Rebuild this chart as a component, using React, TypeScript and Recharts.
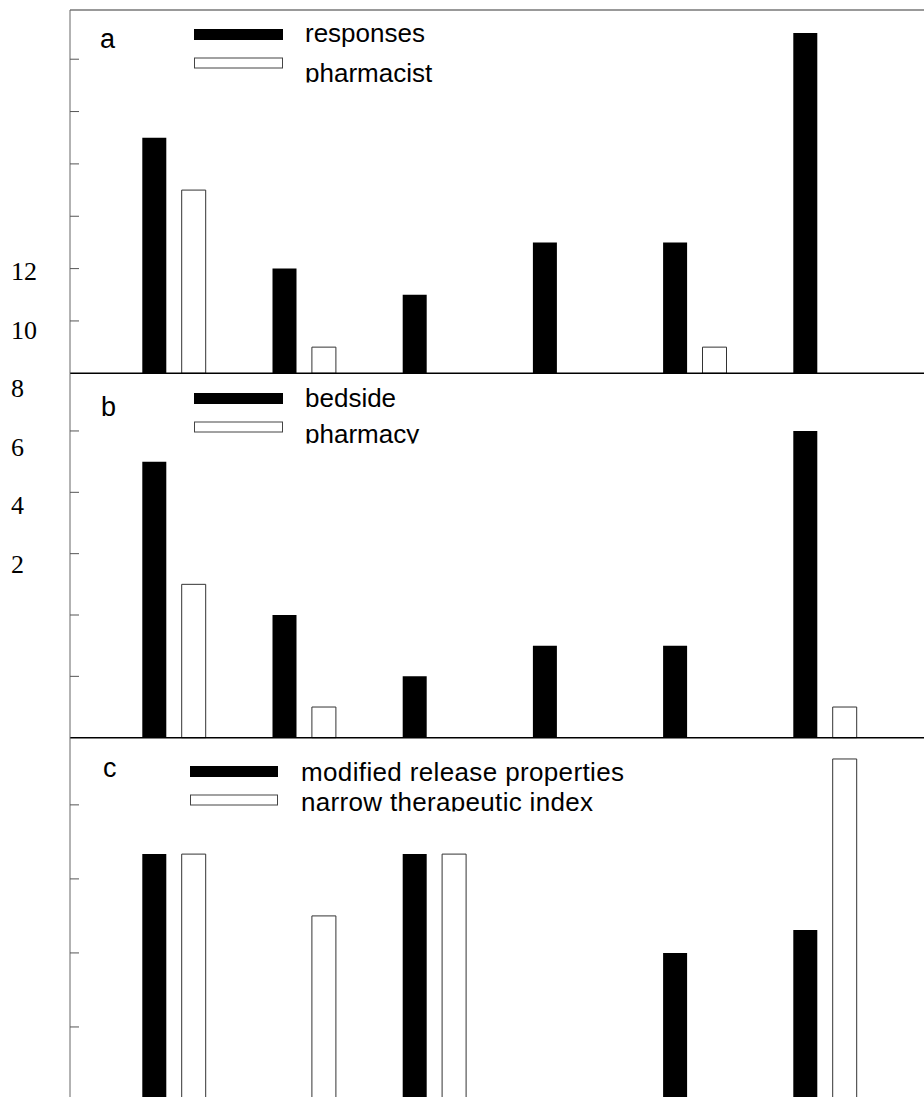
import React from 'react'
import { BarChart, Bar, XAxis, YAxis } from 'recharts'

const categories = ['1', '2', '3', '4', '5', '6']

// panel a
const responses = [9, 4, 3, 5, 5, 13]
const pharmacist = [7, 1, 0, 0, 1, 0]

// panel b
const bedside = [9, 4, 2, 3, 3, 10]
const pharmacy = [5, 1, 0, 0, 0, 1]

// panel c
const modifiedRelease = [6.67, 0, 6.67, 0, 4, 4.62]
const narrowIndex = [6.67, 5, 6.67, 0, 0, 9.24]

const ticksA = [2, 4, 6, 8, 10, 12]
const ticksB = [2, 4, 6, 8, 10]
const ticksC = [2, 4, 6, 8]

// stray axis labels on the far left
const strayLabels = ['12', '10', '8', '6', '4', '2']

const SANS = '"Liberation Sans", Arial, Helvetica, sans-serif'
const SERIF = '"Liberation Serif", "Times New Roman", serif'

const build = (black: number[], white: number[]) =>
  categories.map((c, i) => ({ cat: c, black: black[i], white: white[i] }))

interface PanelProps {
  top: number
  height: number
  marginTop: number
  marginBottom: number
  domainMax: number
  ticks: number[]
  data: { cat: string; black: number; white: number }[]
  topLine?: boolean
}

function Panel({ top, height, marginTop, marginBottom, domainMax, ticks, data, topLine }: PanelProps) {
  return (
    <div style={{ position: 'absolute', left: 0, top, width: 924, height }}>
      <BarChart
        width={924}
        height={height}
        data={data}
        margin={{ top: topLine ? marginTop - 1 : marginTop, right: 0, bottom: marginBottom - 1, left: 69 }}
        barGap={15.4}
      >
        <XAxis
          dataKey="cat"
          height={1}
          tick={false}
          tickLine={false}
          padding={{ left: 39.3, right: 33.5 }}
          axisLine={{ stroke: '#000', strokeWidth: 1.6 }}
        />
        {topLine && (
          <XAxis
            xAxisId="top"
            orientation="top"
            dataKey="cat"
            height={1}
            tick={false}
            tickLine={false}
            axisLine={{ stroke: '#777', strokeWidth: 1.6 }}
          />
        )}
        <YAxis
          domain={[0, domainMax]}
          ticks={ticks}
          width={1}
          tickSize={-9}
          tickFormatter={() => ''}
          tickLine={{ stroke: '#555', strokeWidth: 1 }}
          axisLine={{ stroke: '#666', strokeWidth: 1 }}
        />
        <Bar dataKey="black" fill="#000" barSize={24} isAnimationActive={false} />
        <Bar dataKey="white" fill="#fff" stroke="#333" strokeWidth={1} barSize={24} isAnimationActive={false} />
      </BarChart>
    </div>
  )
}

interface LegendProps {
  id: string
  letter: string
  letterX: number
  letterY: number
  swX: number
  swW: number
  blackY: number
  whiteY: number
  textX: number
  line1Y: number
  line2Y: number
  names: string[]
  lengths?: number[]
}

function PanelLegend({ id, letter, letterX, letterY, swX, swW, blackY, whiteY, textX, line1Y, line2Y, names, lengths }: LegendProps) {
  const fit = (i: number) =>
    lengths ? { textLength: lengths[i], lengthAdjust: 'spacing' as const } : {}
  return (
    <g>
      <defs>
        <clipPath id={id}>
          <rect x={0} y={line2Y - 40} width={924} height={40.5} />
        </clipPath>
      </defs>
      <text x={letterX} y={letterY} fontFamily={SANS} fontSize={27} fill="#000">{letter}</text>
      <rect x={swX} y={blackY} width={swW} height={11} fill="#000" />
      <rect x={swX + 0.5} y={whiteY + 0.5} width={swW - 1} height={10} fill="#fff" stroke="#444" strokeWidth={1} />
      <text x={textX} y={line1Y} fontFamily={SANS} fontSize={26} fill="#000" {...fit(0)}>{names[0]}</text>
      <text x={textX} y={line2Y} fontFamily={SANS} fontSize={26} fill="#000" clipPath={`url(#${id})`} {...fit(1)}>
        {names[1]}
      </text>
    </g>
  )
}

export default function App() {
  return (
    <div style={{ position: 'absolute', left: 0, top: 0, width: 924, height: 1097, overflow: 'hidden', background: '#fff' }}>
      <Panel top={0} height={380} marginTop={10} marginBottom={6.7} domainMax={13.88} ticks={ticksA}
        data={build(responses, pharmacist)} topLine />
      <Panel top={366} height={380} marginTop={7.3} marginBottom={8.3} domainMax={11.88} ticks={ticksB}
        data={build(bedside, pharmacy)} />
      <Panel top={730} height={380} marginTop={7.5} marginBottom={9} domainMax={9.82} ticks={ticksC}
        data={build(modifiedRelease, narrowIndex)} />
      <svg width={924} height={1097} style={{ position: 'absolute', left: 0, top: 0, pointerEvents: 'none' }}>
        {strayLabels.map((t, i) => (
          <text key={t} x={11} y={280 + i * 58.6} fontFamily={SERIF} fontSize={26} fill="#000">{t}</text>
        ))}
        <PanelLegend id="clipA" letter="a" letterX={100} letterY={48} swX={194} swW={89} blackY={29} whiteY={57.5}
          textX={305} line1Y={42} line2Y={82} names={['responses', 'pharmacist']} />
        <PanelLegend id="clipB" letter="b" letterX={101} letterY={416} swX={194} swW={89} blackY={393} whiteY={421.5}
          textX={305} line1Y={407} line2Y={443} names={['bedside', 'pharmacy']} />
        <PanelLegend id="clipC" letter="c" letterX={103} letterY={777} swX={190} swW={88} blackY={766} whiteY={794.5}
          textX={301} line1Y={781} line2Y={811} names={['modified release properties', 'narrow therapeutic index']}
          lengths={[323, 292]} />
      </svg>
    </div>
  )
}
